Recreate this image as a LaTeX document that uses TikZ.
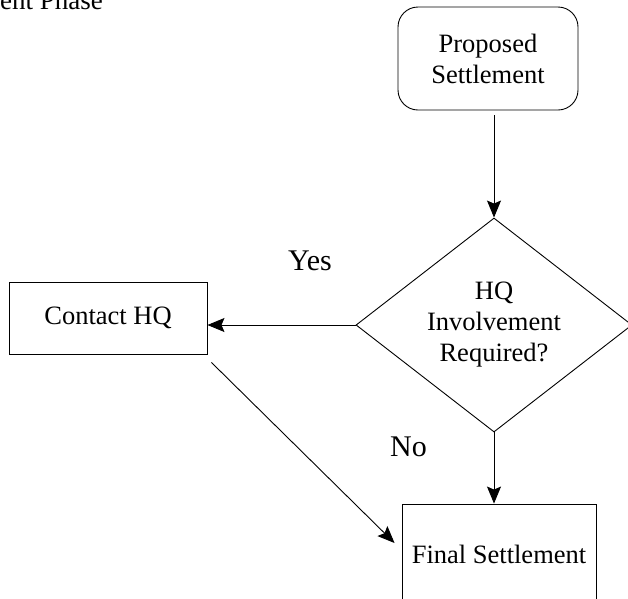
\documentclass[tikz,border=0pt]{standalone}
\usepackage{fontspec}
\setmainfont{Liberation Serif}
\usetikzlibrary{shapes.geometric,positioning,arrows.meta}

\tikzset{
    nodetxt/.style={font=\fontsize{26.5}{31}\selectfont, align=center, inner sep=0pt},
    stepbox/.style={nodetxt, draw, line width=0.9pt},
    startbox/.style={stepbox, rounded corners=20pt, minimum width=180pt, minimum height=103pt},
    decision/.style={nodetxt, draw, line width=0.9pt, diamond, aspect=1.29, minimum width=276pt, minimum height=214pt},
    flow/.style={line width=0.9pt, -{Stealth[length=17pt, width=14pt, inset=3pt]}},
    answer/.style={font=\fontsize{30}{34}\selectfont, inner sep=0pt, anchor=base west},
}

\begin{document}
\begin{tikzpicture}[x=1pt, y=-1pt]
        \useasboundingbox (0,0) rectangle (628,598);
        \clip (0,0) rectangle (628,598);
        % title, cut at the top
        \node [font=\fontsize{27}{31}\selectfont, inner sep=0pt, anchor=base west] (title) at (0,9.5) {ent Phase};
        % steps
        \node [startbox] (prop) at (488,58.5) {Proposed\\Settlement};
        \node [decision] (dec) at (494,325) {HQ\\Involvement\\Required?};
        \node [stepbox, minimum width=198pt, minimum height=72pt] (contact) at (108,318) {Contact HQ};
        \node [stepbox, minimum width=194pt, minimum height=100pt] (final) at (499,554) {Final Settlement};
        % answers
        \node [answer] (yes) at (288,270) {Yes};
        \node [answer] (no) at (390,456) {No};
        % connectors
        \draw [flow] (dec.north |- prop.south) ++(0,5) -- (dec.north);
        \draw [flow] (dec.west) -- (dec.west -| contact.east);
        \draw [flow] (dec.south) -- (dec.south |- final.north);
        \draw [flow] ([shift={(4,8)}]contact.south east) -- ([shift={(-7,-11)}]final.west);
\end{tikzpicture}
\end{document}
